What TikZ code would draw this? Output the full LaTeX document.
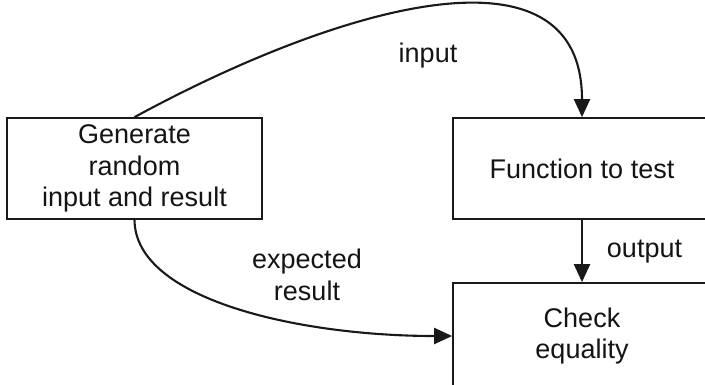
\documentclass[tikz,border=0pt]{standalone}
\usepackage{fontspec}
\setmainfont{Liberation Sans}
\usetikzlibrary{arrows.meta}
\begin{document}
\begin{tikzpicture}[x=1bp,y=-1bp,
  every node/.style={font=\fontsize{27bp}{31.5bp}\selectfont, text=black!92},
  procbox/.style={draw=black!90, line width=1.7bp, fill=white, inner sep=0pt,
    align=center, minimum width=255bp, minimum height=101bp},
  flow/.style={draw=black!90, line width=2.1bp,
    -{Triangle[length=18bp,width=16bp]}},
  lbl/.style={anchor=base, inner sep=0pt, align=center}]
  \useasboundingbox (0,0) rectangle (705,384);
  \begin{scope}
    \clip (0,0) rectangle (705,384);
    % process boxes
    \node[procbox] (gen) at (134.5,168.5) {Generate\\random\\input and result};
    \node[procbox, minimum width=258bp] (fun) at (582,168.5) {Function to test};
    \node[procbox, minimum width=258bp, minimum height=106bp] (chk) at (582,336) {Check\\equality};
    % connectors
    \draw[flow] (gen.north) .. controls (335,8) and (582,-66) .. (fun.north);
    \draw[flow] (fun.south) -- (chk.north);
    \draw[flow] (gen.south) .. controls (135,300) and (300,336) .. (chk.west);
    % connector labels
    \node[lbl] (lin) at (428,62) {input};
    \node[lbl] (lout) at (644.5,257) {output};
    \node[lbl] (lexp) at (307,268) {expected};
    \node[lbl] (lres) at (307,300) {result};
  \end{scope}
\end{tikzpicture}
\end{document}
